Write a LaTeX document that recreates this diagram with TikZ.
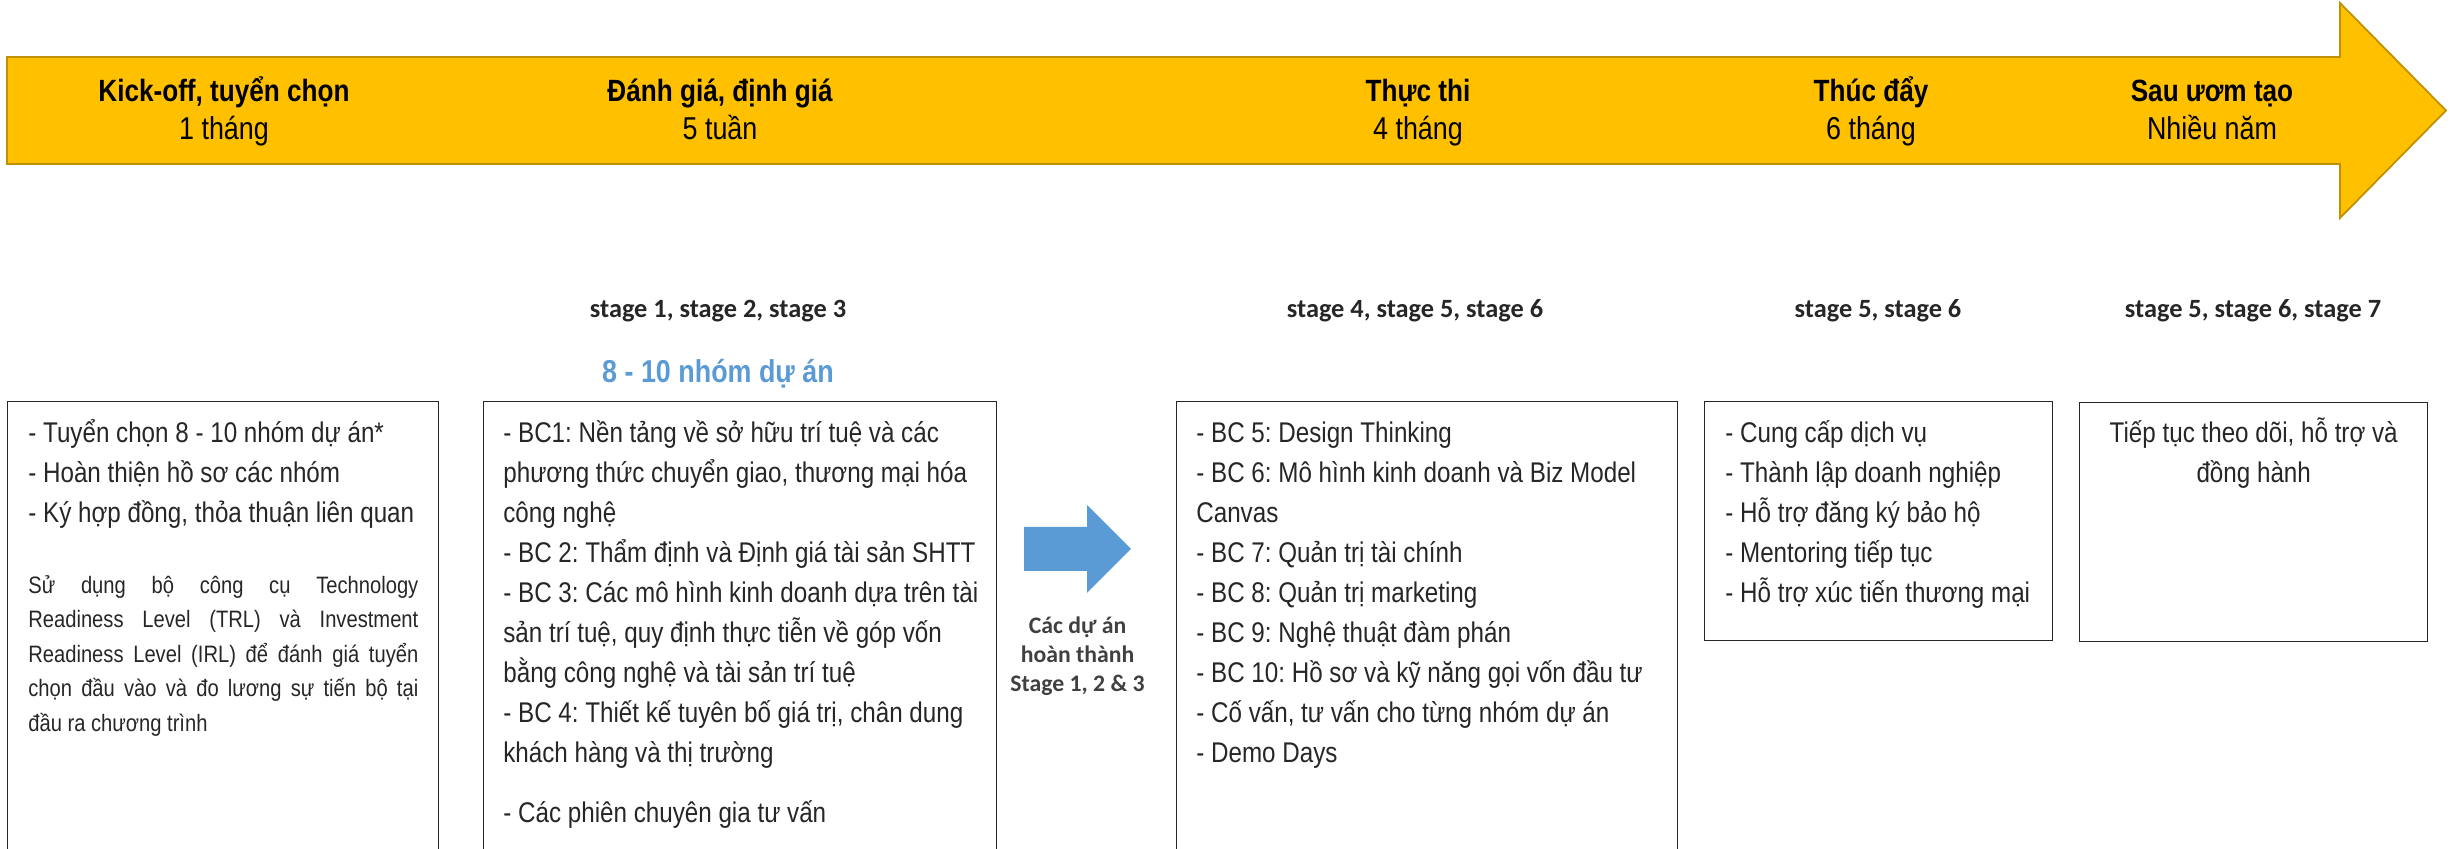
\documentclass[tikz,border=0pt]{standalone}
\usepackage{fontspec}
\setmainfont{Liberation Sans}[FakeStretch=0.85]
\newfontfamily\stagefont{Carlito}
\usepackage{tikz}
\usetikzlibrary{positioning,calc}
\definecolor{timelinegold}{HTML}{FFC000}
\definecolor{timelineedge}{HTML}{BF9000}
\definecolor{projectblue}{HTML}{5B9BD5}
\definecolor{bodygray}{HTML}{262626}
\definecolor{captiongray}{HTML}{404040}
\frenchspacing

\begin{document}
\begin{tikzpicture}[node distance=1cm, on grid,
                    timeline/.style = {fill=timelinegold, draw=timelineedge, line width=1pt},
                    transfer/.style = {fill=projectblue},
                    phase/.style = {font=\fontsize{17.5}{21}\selectfont\bfseries, text=black, inner sep=0pt, anchor=base},
                    phase time/.style = {font=\fontsize{18}{21}\selectfont, text=black, inner sep=0pt, anchor=base},
                    stage label/.style = {font=\stagefont\fontsize{15}{18}\selectfont\bfseries, text=bodygray, inner sep=0pt, anchor=base},
                    group count/.style = {font=\fontsize{18}{21}\selectfont\bfseries, text=projectblue, inner sep=0pt, anchor=base},
                    content box/.style = {rectangle, draw=black!85, line width=0.8pt, anchor=north west},
                    box text/.style = {font=\fontsize{16.2}{22.8}\selectfont, text=bodygray, align=left, inner sep=0pt, anchor=north west},
                    caption/.style = {font=\stagefont\fontsize{13.5}{16.5}\selectfont\bfseries, text=captiongray, align=center, inner sep=0pt, anchor=north} ]

                \useasboundingbox (0,0) rectangle (49,16.98);
                \clip (0,0) rectangle (49,16.98);

                % timeline arrow
                \draw[timeline] (0.14,15.84) -- (46.8,15.84) -- (46.8,16.92) -- (48.92,14.77)
                                -- (46.8,12.62) -- (46.8,13.70) -- (0.14,13.70) -- cycle;

                \node [phase] (KickOff) at (4.48,14.95) {Kick-off, tuyển chọn};
                \node [phase time] (KickOffTime) [below=0.77 of KickOff.base, anchor=base] {1 tháng};
                \node [phase] (Evaluation) at (14.40,14.95) {Đánh giá, định giá};
                \node [phase time] (EvaluationTime) [below=0.77 of Evaluation.base, anchor=base] {5 tuần};
                \node [phase] (Execution) at (28.36,14.95) {Thực thi};
                \node [phase time] (ExecutionTime) [below=0.77 of Execution.base, anchor=base] {4 tháng};
                \node [phase] (Acceleration) at (37.42,14.95) {Thúc đẩy};
                \node [phase time] (AccelerationTime) [below=0.77 of Acceleration.base, anchor=base] {6 tháng};
                \node [phase] (PostIncubation) at (44.24,14.95) {Sau ươm tạo};
                \node [phase time] (PostIncubationTime) [below=0.77 of PostIncubation.base, anchor=base] {Nhiều năm};

                % stage labels
                \node [stage label] (StageEval) at (14.36,10.62) {stage 1, stage 2, stage 3};
                \node [stage label] (StageExec) at (28.30,10.62) {stage 4, stage 5, stage 6};
                \node [stage label] (StageAccel) at (37.56,10.62) {stage 5, stage 6};
                \node [stage label] (StagePost) at (45.06,10.62) {stage 5, stage 6, stage 7};
                \node [group count] (GroupCount) at (14.36,9.32) {8 - 10 nhóm dự án};

                % boxes
                \node [content box, minimum width=8.62cm, minimum height=10cm] (SelectionBox) at (0.14,8.96) {};
                \node [content box, minimum width=10.26cm, minimum height=10cm] (TrainingBox) at (9.66,8.96) {};
                \node [content box, minimum width=10.02cm, minimum height=10cm] (ExecutionBox) at (23.52,8.96) {};
                \node [content box, minimum width=6.96cm, minimum height=4.78cm] (SupportBox) at (34.08,8.96) {};
                \node [content box, minimum width=6.96cm, minimum height=4.78cm] (FollowUpBox) at (41.58,8.94) {};

                \node [box text] (SelectionList) at ($(SelectionBox.north west)+(0.42,-0.26)$)
                      {\strut- Tuyển chọn 8 - 10 nhóm dự án*\\- Hoàn thiện hồ sơ các nhóm\\- Ký hợp đồng, thỏa thuận liên quan};
                \node [box text, font=\fontsize{13.5}{19.6}\selectfont, text width=7.8cm, align=justify] (SelectionNote)
                      at ($(SelectionBox.north west)+(0.42,-3.36)$)
                      {\noindent\hyphenpenalty=10000\tolerance=9999\strut Sử dụng bộ công cụ Technology\linebreak
                       Readiness Level (TRL) và Investment\linebreak
                       Readiness Level (IRL) để đánh giá tuyển\linebreak
                       chọn đầu vào và đo lương sự tiến bộ tại\linebreak
                       đầu ra chương trình};
                \node [box text] (TrainingList) at ($(TrainingBox.north west)+(0.40,-0.26)$)
                      {\strut- BC1: Nền tảng về sở hữu trí tuệ và các\\phương thức chuyển giao, thương mại hóa\\công nghệ\\- BC 2: Thẩm định và Định giá tài sản SHTT\\- BC 3: Các mô hình kinh doanh dựa trên tài\\sản trí tuệ, quy định thực tiễn về góp vốn\\bằng công nghệ và tài sản trí tuệ\\- BC 4: Thiết kế tuyên bố giá trị, chân dung\\khách hàng và thị trường\\[0.4cm]- Các phiên chuyên gia tư vấn};
                \node [box text] (ExecutionList) at ($(ExecutionBox.north west)+(0.40,-0.26)$)
                      {\strut- BC 5: Design Thinking\\- BC 6: Mô hình kinh doanh và Biz Model\\Canvas\\- BC 7: Quản trị tài chính\\- BC 8: Quản trị marketing\\- BC 9: Nghệ thuật đàm phán\\- BC 10: Hồ sơ và kỹ năng gọi vốn đầu tư\\- Cố vấn, tư vấn cho từng nhóm dự án\\- Demo Days};
                \node [box text] (SupportList) at ($(SupportBox.north west)+(0.42,-0.26)$)
                      {\strut- Cung cấp dịch vụ\\- Thành lập doanh nghiệp\\- Hỗ trợ đăng ký bảo hộ\\- Mentoring tiếp tục\\- Hỗ trợ xúc tiến thương mại};
                \node [box text, align=center, anchor=north] (FollowUpText) at ($(FollowUpBox.north)+(0,-0.24)$)
                      {\strut Tiếp tục theo dõi, hỗ trợ và\\đồng hành};

                % transfer arrow between stages
                \fill[transfer] (20.48,6.44) -- (21.74,6.44) -- (21.74,6.88) -- (22.62,6.0)
                                -- (21.74,5.12) -- (21.74,5.56) -- (20.48,5.56) -- cycle;
                \node [caption] (TransferCaption) at (21.55,4.73) {\strut Các dự án\\hoàn thành\\Stage 1, 2 \& 3};
            \end{tikzpicture}
\end{document}
